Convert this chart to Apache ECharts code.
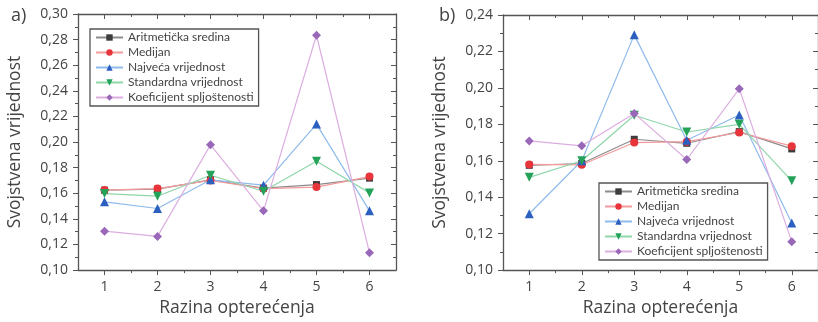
<!DOCTYPE html>
<html>
<head>
<meta charset="utf-8">
<script src="https://cdn.jsdelivr.net/npm/echarts@6/dist/echarts.min.js"></script>
<style>
html, body { margin: 0; padding: 0; background: #fff; }
#main { width: 818px; height: 322px; }
</style>
</head>
<body>
<div id="main"></div>
<script>
// razine opterecenja (x) i vrijednosti za oba dijagrama
var razine = [1, 2, 3, 4, 5, 6];
var razineMinor = [1.5, 2.5, 3.5, 4.5, 5.5];
var nazivi = ['Aritmetička sredina', 'Medijan', 'Najveća vrijednost', 'Standardna vrijednost', 'Koeficijent spljoštenosti'];

var aritA = [0.1624, 0.1632, 0.1705, 0.1640, 0.1668, 0.1718];
var medA = [0.1625, 0.1637, 0.1700, 0.1637, 0.1648, 0.1730];
var najA = [0.1533, 0.1481, 0.1705, 0.1663, 0.2140, 0.1463];
var stdA = [0.1598, 0.1577, 0.1741, 0.1616, 0.1850, 0.1603];
var koefA = [0.1304, 0.1263, 0.1978, 0.1463, 0.2834, 0.1135];

var aritB = [0.1575, 0.1585, 0.1718, 0.1696, 0.1760, 0.1665];
var medB = [0.1580, 0.1578, 0.1700, 0.1705, 0.1755, 0.1680];
var najB = [0.1309, 0.1600, 0.2291, 0.1713, 0.1851, 0.1258];
var stdB = [0.1509, 0.1600, 0.1850, 0.1758, 0.1800, 0.1490];
var koefB = [0.1709, 0.1682, 0.1860, 0.1607, 0.1995, 0.1156];

var markerColors = ['#3d3d3d', '#e8343b', '#2b5fc0', '#25a25a', '#9a68b8'];
var lineColors = ['#8c8c8c', '#f49a9a', '#8fbbec', '#8fd6aa', '#dcaee0'];
var symbols = ['rect', 'circle', 'triangle', 'triangle', 'diamond'];
var rotations = [0, 0, 0, 180, 0];
var sizes = [7, 8, 9, 9, 9];

var axisCol = '#555';
var txtCol = '#444';
var font = 'Open Sans';

var chart = echarts.init(document.getElementById('main'));

function pairs(vals) {
    return vals.map(function (v, i) { return [razine[i], v]; });
}

function xAxes(grid) {
    var base = {
        type: 'value', gridIndex: grid, min: 0.5, max: 6.5,
        splitLine: { show: false },
        axisLine: { show: true, onZero: false, lineStyle: { color: axisCol, width: 1.3 } }
    };
    return [
        Object.assign({}, base, {
            position: 'bottom',
            name: 'Razina opterećenja', nameLocation: 'middle', nameGap: 28,
            nameTextStyle: { fontFamily: font, fontSize: 17.5, color: txtCol },
            axisTick: { show: true, length: 5, customValues: razine, lineStyle: { color: axisCol } },
            axisLabel: { show: true, customValues: razine, fontFamily: font, fontSize: 14, color: txtCol, margin: 10 }
        }),
        Object.assign({}, base, {
            position: 'bottom',
            axisLine: { show: false },
            axisTick: { show: true, length: 3, customValues: razineMinor, lineStyle: { color: axisCol } },
            axisLabel: { show: false }
        }),
        Object.assign({}, base, {
            position: 'top',
            axisTick: { show: true, inside: true, length: 5, customValues: razine, lineStyle: { color: axisCol } },
            axisLabel: { show: false }
        }),
        Object.assign({}, base, {
            position: 'top',
            axisLine: { show: false },
            axisTick: { show: true, inside: true, length: 3, customValues: razineMinor, lineStyle: { color: axisCol } },
            axisLabel: { show: false }
        })
    ];
}

function yAxes(grid, max) {
    var base = {
        type: 'value', gridIndex: grid, min: 0.10, max: max, interval: 0.02,
        splitLine: { show: false },
        axisLine: { show: true, onZero: false, lineStyle: { color: axisCol, width: 1.3 } },
        minorTick: { show: true, splitNumber: 2, length: 3, lineStyle: { color: axisCol } }
    };
    return [
        Object.assign({}, base, {
            position: 'left',
            name: 'Svojstvena vrijednost', nameLocation: 'middle', nameGap: 54,
            nameTextStyle: { fontFamily: font, fontSize: 17.5, color: txtCol },
            axisTick: { show: true, length: 5, lineStyle: { color: axisCol } },
            axisLabel: {
                fontFamily: font, fontSize: 14, color: txtCol, margin: 10,
                formatter: function (v) { return v.toFixed(2).replace('.', ','); }
            }
        }),
        Object.assign({}, base, {
            position: 'right',
            axisTick: { show: true, inside: true, length: 5, lineStyle: { color: axisCol } },
            minorTick: { show: true, splitNumber: 2, length: 3, lineStyle: { color: axisCol } },
            axisLabel: { show: false }
        })
    ];
}

function seriesFor(grid, lists) {
    return lists.map(function (vals, k) {
        return {
            name: nazivi[k],
            type: 'line',
            xAxisIndex: grid * 4,
            yAxisIndex: grid * 2,
            data: pairs(vals),
            symbol: symbols[k],
            symbolRotate: rotations[k],
            symbolSize: sizes[k],
            showAllSymbol: true,
            itemStyle: { color: markerColors[k] },
            lineStyle: { color: lineColors[k], width: 1.2 },
            emphasis: { disabled: true },
            animation: false
        };
    });
}

function legendFor(left, top) {
    return {
        data: nazivi.map(function (n) { return { name: n }; }),
        orient: 'vertical',
        left: left, top: top,
        itemWidth: 27, itemHeight: 8, itemGap: 2,
        padding: [2, 5, 2, 5],
        borderColor: '#555', borderWidth: 1.3,
        selectedMode: false,
        textStyle: { fontFamily: 'Lato', fontSize: 12, color: txtCol, lineHeight: 13 }
    };
}

var option = {
    animation: false,
    title: [
        { text: 'a)', left: 6, top: 2, textStyle: { fontFamily: font, fontSize: 18, fontWeight: 'normal', color: txtCol } },
        { text: 'b)', left: 434, top: 2, textStyle: { fontFamily: font, fontSize: 18, fontWeight: 'normal', color: txtCol } }
    ],
    grid: [
        { left: 78, top: 14, width: 318, height: 257 },
        { left: 503, top: 15, width: 319, height: 257 }
    ],
    legend: [
        legendFor(90, 29),
        legendFor(599, 183)
    ],
    xAxis: xAxes(0).concat(xAxes(1)),
    yAxis: yAxes(0, 0.30).concat(yAxes(1, 0.24)),
    series: seriesFor(0, [aritA, medA, najA, stdA, koefA]).concat(
        seriesFor(1, [aritB, medB, najB, stdB, koefB]))
};

chart.setOption(option);
</script>
</body>
</html>
